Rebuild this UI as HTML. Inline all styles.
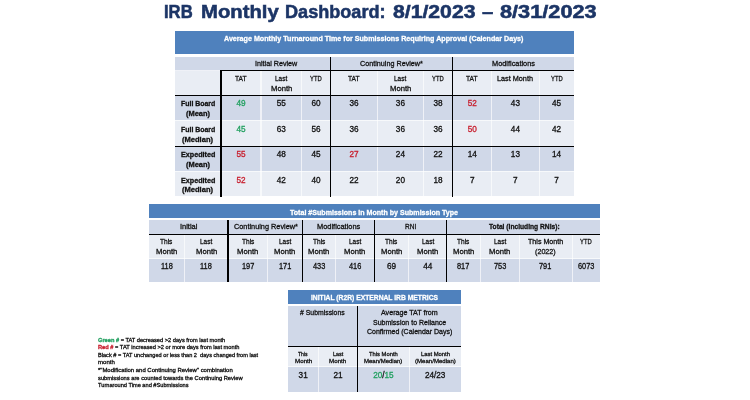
<!DOCTYPE html>
<html><head><meta charset="utf-8"><title>IRB Monthly Dashboard</title>
<style>
html,body{margin:0;padding:0;background:#fff;}
body{width:750px;height:400px;position:relative;overflow:hidden;font-family:"Liberation Sans",sans-serif;}
.r{position:absolute;}
.t{position:absolute;white-space:nowrap;-webkit-text-stroke:0.3px currentColor;}
#w{position:absolute;left:0;top:0;width:750px;height:400px;filter:blur(0.45px);}
</style></head><body><div id="w">
<div class="t" style="left:163.80px;top:1px;font-size:19px;line-height:21px;height:21px;color:#1C3566;transform:scaleX(0.8752);transform-origin:left top;font-weight:bold;-webkit-text-stroke:0.55px currentColor;">IRB</div>
<div class="t" style="left:200.50px;top:1px;font-size:19px;line-height:21px;height:21px;color:#1C3566;transform:scaleX(1.0677);transform-origin:left top;font-weight:bold;-webkit-text-stroke:0.55px currentColor;">Monthly</div>
<div class="t" style="left:285.40px;top:1px;font-size:19px;line-height:21px;height:21px;color:#1C3566;transform:scaleX(0.9522);transform-origin:left top;font-weight:bold;-webkit-text-stroke:0.55px currentColor;">Dashboard:</div>
<div class="t" style="left:392.90px;top:1px;font-size:19px;line-height:21px;height:21px;color:#1C3566;transform:scaleX(1.1148);transform-origin:left top;font-weight:bold;-webkit-text-stroke:0.55px currentColor;">8/1/2023</div>
<div class="t" style="left:482.40px;top:1px;font-size:19px;line-height:21px;height:21px;color:#1C3566;transform:scaleX(1.0716);transform-origin:left top;font-weight:bold;-webkit-text-stroke:0.55px currentColor;">–</div>
<div class="t" style="left:499.50px;top:1px;font-size:19px;line-height:21px;height:21px;color:#1C3566;transform:scaleX(1.1437);transform-origin:left top;font-weight:bold;-webkit-text-stroke:0.55px currentColor;">8/31/2023</div>
<div class="r" style="left:175.00px;top:30.90px;width:398.90px;height:24.60px;background:#4F81BD"></div>
<div class="r" style="left:175.00px;top:55.50px;width:398.90px;height:15.25px;background:#D0D8E8"></div>
<div class="r" style="left:175.00px;top:70.75px;width:398.90px;height:24.85px;background:#E9EDF4"></div>
<div class="r" style="left:175.00px;top:95.60px;width:398.90px;height:24.20px;background:#D0D8E8"></div>
<div class="r" style="left:175.00px;top:119.80px;width:398.90px;height:26.70px;background:#E9EDF4"></div>
<div class="r" style="left:175.00px;top:146.50px;width:398.90px;height:24.20px;background:#D0D8E8"></div>
<div class="r" style="left:175.00px;top:170.70px;width:398.90px;height:25.80px;background:#E9EDF4"></div>
<div class="r" style="left:220.35px;top:70.75px;width:1.1px;height:125.75px;background:rgba(255,255,255,0.65)"></div>
<div class="r" style="left:260.45px;top:70.75px;width:1.1px;height:125.75px;background:rgba(255,255,255,0.65)"></div>
<div class="r" style="left:300.85px;top:70.75px;width:1.1px;height:125.75px;background:rgba(255,255,255,0.65)"></div>
<div class="r" style="left:330.20px;top:70.75px;width:1.1px;height:125.75px;background:rgba(255,255,255,0.65)"></div>
<div class="r" style="left:376.85px;top:70.75px;width:1.1px;height:125.75px;background:rgba(255,255,255,0.65)"></div>
<div class="r" style="left:422.85px;top:70.75px;width:1.1px;height:125.75px;background:rgba(255,255,255,0.65)"></div>
<div class="r" style="left:452.15px;top:70.75px;width:1.1px;height:125.75px;background:rgba(255,255,255,0.65)"></div>
<div class="r" style="left:491.15px;top:70.75px;width:1.1px;height:125.75px;background:rgba(255,255,255,0.65)"></div>
<div class="r" style="left:538.55px;top:70.75px;width:1.1px;height:125.75px;background:rgba(255,255,255,0.65)"></div>
<div class="r" style="left:175.00px;top:54.40px;width:398.90px;height:2.2px;background:#fff"></div>
<div class="r" style="left:175.00px;top:120.05px;width:398.90px;height:1.1px;background:rgba(255,255,255,0.65)"></div>
<div class="r" style="left:175.00px;top:170.95px;width:398.90px;height:1.1px;background:rgba(255,255,255,0.65)"></div>
<div class="r" style="left:220.28px;top:70.75px;width:1.25px;height:125.75px;background:#000"></div>
<div class="r" style="left:330.12px;top:56.50px;width:1.25px;height:140.00px;background:#000"></div>
<div class="r" style="left:452.07px;top:56.50px;width:1.25px;height:140.00px;background:#000"></div>
<div class="r" style="left:175.00px;top:69.85px;width:45.90px;height:1.0px;background:rgba(255,255,255,0.65)"></div>
<div class="r" style="left:220.28px;top:70.12px;width:353.62px;height:1.25px;background:#000"></div>
<div class="r" style="left:175.00px;top:94.97px;width:398.90px;height:1.25px;background:#000"></div>
<div class="r" style="left:175.00px;top:145.88px;width:398.90px;height:1.25px;background:#000"></div>
<div class="t" style="left:224.40px;top:34px;font-size:7.2px;line-height:9px;height:9px;color:#fff;transform:scaleX(0.9932);transform-origin:left top;font-weight:bold;">Average Monthly Turnaround Time for Submissions Requiring Approval (Calendar Days)</div>
<div class="t" style="left:254.70px;top:59px;font-size:7.6px;line-height:9px;height:9px;color:#111;transform:scaleX(0.9442);transform-origin:left top;">Initial Review</div>
<div class="t" style="left:359.80px;top:59px;font-size:7.6px;line-height:9px;height:9px;color:#111;transform:scaleX(0.9486);transform-origin:left top;">Continuing Review*</div>
<div class="t" style="left:492.00px;top:59px;font-size:7.6px;line-height:9px;height:9px;color:#111;transform:scaleX(0.9696);transform-origin:left top;">Modifications</div>
<div class="t" style="left:235.15px;top:74px;font-size:7.6px;line-height:9px;height:9px;color:#111;transform:scaleX(0.8772);transform-origin:left top;">TAT</div>
<div class="t" style="left:275.10px;top:74px;font-size:7.6px;line-height:9px;height:9px;color:#111;transform:scaleX(0.8493);transform-origin:left top;">Last</div>
<div class="t" style="left:270.55px;top:84px;font-size:7.6px;line-height:9px;height:9px;color:#111;transform:scaleX(1.0081);transform-origin:left top;">Month</div>
<div class="t" style="left:310.22px;top:74px;font-size:7.6px;line-height:9px;height:9px;color:#111;transform:scaleX(0.7697);transform-origin:left top;">YTD</div>
<div class="t" style="left:348.27px;top:74px;font-size:7.6px;line-height:9px;height:9px;color:#111;transform:scaleX(0.8772);transform-origin:left top;">TAT</div>
<div class="t" style="left:394.30px;top:74px;font-size:7.6px;line-height:9px;height:9px;color:#111;transform:scaleX(0.8493);transform-origin:left top;">Last</div>
<div class="t" style="left:389.75px;top:84px;font-size:7.6px;line-height:9px;height:9px;color:#111;transform:scaleX(1.0081);transform-origin:left top;">Month</div>
<div class="t" style="left:432.20px;top:74px;font-size:7.6px;line-height:9px;height:9px;color:#111;transform:scaleX(0.7697);transform-origin:left top;">YTD</div>
<div class="t" style="left:466.40px;top:74px;font-size:7.6px;line-height:9px;height:9px;color:#111;transform:scaleX(0.8772);transform-origin:left top;">TAT</div>
<div class="t" style="left:497.40px;top:74px;font-size:7.6px;line-height:9px;height:9px;color:#111;transform:scaleX(0.9579);transform-origin:left top;">Last Month</div>
<div class="t" style="left:550.65px;top:74px;font-size:7.6px;line-height:9px;height:9px;color:#111;transform:scaleX(0.7697);transform-origin:left top;">YTD</div>
<div class="t" style="left:180.80px;top:99px;font-size:7.3px;line-height:9px;height:9px;color:#111;transform:scaleX(0.9502);transform-origin:left top;font-weight:bold;">Full Board</div>
<div class="t" style="left:185.95px;top:109px;font-size:7.3px;line-height:9px;height:9px;color:#111;transform:scaleX(1.0210);transform-origin:left top;font-weight:bold;">(Mean)</div>
<div class="t" style="left:236.40px;top:99px;font-size:8.2px;line-height:9px;height:9px;color:#22A060;transform:scaleX(1.0000);transform-origin:left top;">49</div>
<div class="t" style="left:276.65px;top:99px;font-size:8.2px;line-height:9px;height:9px;color:#111;transform:scaleX(1.0000);transform-origin:left top;">55</div>
<div class="t" style="left:311.52px;top:99px;font-size:8.2px;line-height:9px;height:9px;color:#111;transform:scaleX(1.0000);transform-origin:left top;">60</div>
<div class="t" style="left:349.52px;top:99px;font-size:8.2px;line-height:9px;height:9px;color:#111;transform:scaleX(1.0000);transform-origin:left top;">36</div>
<div class="t" style="left:395.85px;top:99px;font-size:8.2px;line-height:9px;height:9px;color:#111;transform:scaleX(1.0000);transform-origin:left top;">36</div>
<div class="t" style="left:433.50px;top:99px;font-size:8.2px;line-height:9px;height:9px;color:#111;transform:scaleX(1.0000);transform-origin:left top;">38</div>
<div class="t" style="left:467.65px;top:99px;font-size:8.2px;line-height:9px;height:9px;color:#C8202F;transform:scaleX(1.0000);transform-origin:left top;">52</div>
<div class="t" style="left:510.85px;top:99px;font-size:8.2px;line-height:9px;height:9px;color:#111;transform:scaleX(1.0000);transform-origin:left top;">43</div>
<div class="t" style="left:551.95px;top:99px;font-size:8.2px;line-height:9px;height:9px;color:#111;transform:scaleX(1.0000);transform-origin:left top;">45</div>
<div class="t" style="left:180.80px;top:125px;font-size:7.3px;line-height:9px;height:9px;color:#111;transform:scaleX(0.9502);transform-origin:left top;font-weight:bold;">Full Board</div>
<div class="t" style="left:182.45px;top:135px;font-size:7.3px;line-height:9px;height:9px;color:#111;transform:scaleX(1.0332);transform-origin:left top;font-weight:bold;">(Median)</div>
<div class="t" style="left:236.40px;top:125px;font-size:8.2px;line-height:9px;height:9px;color:#22A060;transform:scaleX(1.0000);transform-origin:left top;">45</div>
<div class="t" style="left:276.65px;top:125px;font-size:8.2px;line-height:9px;height:9px;color:#111;transform:scaleX(1.0000);transform-origin:left top;">63</div>
<div class="t" style="left:311.52px;top:125px;font-size:8.2px;line-height:9px;height:9px;color:#111;transform:scaleX(1.0000);transform-origin:left top;">56</div>
<div class="t" style="left:349.52px;top:125px;font-size:8.2px;line-height:9px;height:9px;color:#111;transform:scaleX(1.0000);transform-origin:left top;">36</div>
<div class="t" style="left:395.85px;top:125px;font-size:8.2px;line-height:9px;height:9px;color:#111;transform:scaleX(1.0000);transform-origin:left top;">36</div>
<div class="t" style="left:433.50px;top:125px;font-size:8.2px;line-height:9px;height:9px;color:#111;transform:scaleX(1.0000);transform-origin:left top;">36</div>
<div class="t" style="left:467.65px;top:125px;font-size:8.2px;line-height:9px;height:9px;color:#C8202F;transform:scaleX(1.0000);transform-origin:left top;">50</div>
<div class="t" style="left:510.85px;top:125px;font-size:8.2px;line-height:9px;height:9px;color:#111;transform:scaleX(1.0000);transform-origin:left top;">44</div>
<div class="t" style="left:551.95px;top:125px;font-size:8.2px;line-height:9px;height:9px;color:#111;transform:scaleX(1.0000);transform-origin:left top;">42</div>
<div class="t" style="left:180.80px;top:150px;font-size:7.3px;line-height:9px;height:9px;color:#111;transform:scaleX(0.9830);transform-origin:left top;font-weight:bold;">Expedited</div>
<div class="t" style="left:185.95px;top:160px;font-size:7.3px;line-height:9px;height:9px;color:#111;transform:scaleX(1.0210);transform-origin:left top;font-weight:bold;">(Mean)</div>
<div class="t" style="left:236.40px;top:150px;font-size:8.2px;line-height:9px;height:9px;color:#C8202F;transform:scaleX(1.0000);transform-origin:left top;">55</div>
<div class="t" style="left:276.65px;top:150px;font-size:8.2px;line-height:9px;height:9px;color:#111;transform:scaleX(1.0000);transform-origin:left top;">48</div>
<div class="t" style="left:311.52px;top:150px;font-size:8.2px;line-height:9px;height:9px;color:#111;transform:scaleX(1.0000);transform-origin:left top;">45</div>
<div class="t" style="left:349.52px;top:150px;font-size:8.2px;line-height:9px;height:9px;color:#C8202F;transform:scaleX(1.0000);transform-origin:left top;">27</div>
<div class="t" style="left:395.85px;top:150px;font-size:8.2px;line-height:9px;height:9px;color:#111;transform:scaleX(1.0000);transform-origin:left top;">24</div>
<div class="t" style="left:433.50px;top:150px;font-size:8.2px;line-height:9px;height:9px;color:#111;transform:scaleX(1.0000);transform-origin:left top;">22</div>
<div class="t" style="left:467.65px;top:150px;font-size:8.2px;line-height:9px;height:9px;color:#111;transform:scaleX(1.0000);transform-origin:left top;">14</div>
<div class="t" style="left:510.85px;top:150px;font-size:8.2px;line-height:9px;height:9px;color:#111;transform:scaleX(1.0000);transform-origin:left top;">13</div>
<div class="t" style="left:551.95px;top:150px;font-size:8.2px;line-height:9px;height:9px;color:#111;transform:scaleX(1.0000);transform-origin:left top;">14</div>
<div class="t" style="left:180.80px;top:176px;font-size:7.3px;line-height:9px;height:9px;color:#111;transform:scaleX(0.9830);transform-origin:left top;font-weight:bold;">Expedited</div>
<div class="t" style="left:182.45px;top:185px;font-size:7.3px;line-height:9px;height:9px;color:#111;transform:scaleX(1.0332);transform-origin:left top;font-weight:bold;">(Median)</div>
<div class="t" style="left:236.40px;top:176px;font-size:8.2px;line-height:9px;height:9px;color:#C8202F;transform:scaleX(1.0000);transform-origin:left top;">52</div>
<div class="t" style="left:276.65px;top:176px;font-size:8.2px;line-height:9px;height:9px;color:#111;transform:scaleX(1.0000);transform-origin:left top;">42</div>
<div class="t" style="left:311.52px;top:176px;font-size:8.2px;line-height:9px;height:9px;color:#111;transform:scaleX(1.0000);transform-origin:left top;">40</div>
<div class="t" style="left:349.52px;top:176px;font-size:8.2px;line-height:9px;height:9px;color:#111;transform:scaleX(1.0000);transform-origin:left top;">22</div>
<div class="t" style="left:395.85px;top:176px;font-size:8.2px;line-height:9px;height:9px;color:#111;transform:scaleX(1.0000);transform-origin:left top;">20</div>
<div class="t" style="left:433.50px;top:176px;font-size:8.2px;line-height:9px;height:9px;color:#111;transform:scaleX(1.0000);transform-origin:left top;">18</div>
<div class="t" style="left:469.92px;top:176px;font-size:8.2px;line-height:9px;height:9px;color:#111;transform:scaleX(1.0000);transform-origin:left top;">7</div>
<div class="t" style="left:513.12px;top:176px;font-size:8.2px;line-height:9px;height:9px;color:#111;transform:scaleX(1.0000);transform-origin:left top;">7</div>
<div class="t" style="left:554.22px;top:176px;font-size:8.2px;line-height:9px;height:9px;color:#111;transform:scaleX(1.0000);transform-origin:left top;">7</div>
<div class="r" style="left:148.60px;top:204.10px;width:451.30px;height:15.10px;background:#4F81BD"></div>
<div class="r" style="left:148.60px;top:219.20px;width:451.30px;height:15.05px;background:#D0D8E8"></div>
<div class="r" style="left:148.60px;top:234.25px;width:451.30px;height:24.65px;background:#E9EDF4"></div>
<div class="r" style="left:148.60px;top:258.90px;width:451.30px;height:23.50px;background:#D0D8E8"></div>
<div class="r" style="left:183.85px;top:234.25px;width:1.1px;height:48.15px;background:rgba(255,255,255,0.65)"></div>
<div class="r" style="left:227.45px;top:234.25px;width:1.1px;height:48.15px;background:rgba(255,255,255,0.65)"></div>
<div class="r" style="left:267.05px;top:234.25px;width:1.1px;height:48.15px;background:rgba(255,255,255,0.65)"></div>
<div class="r" style="left:301.75px;top:234.25px;width:1.1px;height:48.15px;background:rgba(255,255,255,0.65)"></div>
<div class="r" style="left:335.15px;top:234.25px;width:1.1px;height:48.15px;background:rgba(255,255,255,0.65)"></div>
<div class="r" style="left:373.90px;top:234.25px;width:1.1px;height:48.15px;background:rgba(255,255,255,0.65)"></div>
<div class="r" style="left:408.25px;top:234.25px;width:1.1px;height:48.15px;background:rgba(255,255,255,0.65)"></div>
<div class="r" style="left:446.15px;top:234.25px;width:1.1px;height:48.15px;background:rgba(255,255,255,0.65)"></div>
<div class="r" style="left:480.05px;top:234.25px;width:1.1px;height:48.15px;background:rgba(255,255,255,0.65)"></div>
<div class="r" style="left:518.55px;top:234.25px;width:1.1px;height:48.15px;background:rgba(255,255,255,0.65)"></div>
<div class="r" style="left:571.55px;top:234.25px;width:1.1px;height:48.15px;background:rgba(255,255,255,0.65)"></div>
<div class="r" style="left:148.60px;top:218.10px;width:451.30px;height:2.2px;background:#fff"></div>
<div class="r" style="left:148.60px;top:258.05px;width:451.30px;height:1.1px;background:rgba(255,255,255,0.65)"></div>
<div class="r" style="left:227.38px;top:220.20px;width:1.25px;height:62.20px;background:#000"></div>
<div class="r" style="left:301.68px;top:220.20px;width:1.25px;height:62.20px;background:#000"></div>
<div class="r" style="left:373.82px;top:220.20px;width:1.25px;height:62.20px;background:#000"></div>
<div class="r" style="left:446.07px;top:220.20px;width:1.25px;height:62.20px;background:#000"></div>
<div class="r" style="left:148.60px;top:233.62px;width:451.30px;height:1.25px;background:#000"></div>
<div class="t" style="left:290.40px;top:208px;font-size:7.2px;line-height:9px;height:9px;color:#fff;transform:scaleX(0.9847);transform-origin:left top;font-weight:bold;">Total #Submissions in Month by Submission Type</div>
<div class="t" style="left:179.60px;top:222px;font-size:7.6px;line-height:9px;height:9px;color:#111;transform:scaleX(0.9805);transform-origin:left top;">Initial</div>
<div class="t" style="left:233.60px;top:222px;font-size:7.6px;line-height:9px;height:9px;color:#111;transform:scaleX(0.9637);transform-origin:left top;">Continuing Review*</div>
<div class="t" style="left:316.70px;top:222px;font-size:7.6px;line-height:9px;height:9px;color:#111;transform:scaleX(0.9764);transform-origin:left top;">Modifications</div>
<div class="t" style="left:405.00px;top:222px;font-size:7.6px;line-height:9px;height:9px;color:#111;transform:scaleX(0.8606);transform-origin:left top;">RNI</div>
<div class="t" style="left:488.75px;top:222px;font-size:7.6px;line-height:9px;height:9px;color:#111;transform:scaleX(0.8791);transform-origin:left top;font-weight:bold;">Total (Including RNIs):</div>
<div class="t" style="left:160.30px;top:237px;font-size:7.6px;line-height:9px;height:9px;color:#111;transform:scaleX(0.8633);transform-origin:left top;">This</div>
<div class="t" style="left:155.85px;top:247px;font-size:7.6px;line-height:9px;height:9px;color:#111;transform:scaleX(1.0081);transform-origin:left top;">Month</div>
<div class="t" style="left:160.61px;top:262px;font-size:8.2px;line-height:9px;height:9px;color:#111;transform:scaleX(0.9000);transform-origin:left top;">118</div>
<div class="t" style="left:200.10px;top:237px;font-size:7.6px;line-height:9px;height:9px;color:#111;transform:scaleX(0.8493);transform-origin:left top;">Last</div>
<div class="t" style="left:195.55px;top:247px;font-size:7.6px;line-height:9px;height:9px;color:#111;transform:scaleX(1.0081);transform-origin:left top;">Month</div>
<div class="t" style="left:200.31px;top:262px;font-size:8.2px;line-height:9px;height:9px;color:#111;transform:scaleX(0.9000);transform-origin:left top;">118</div>
<div class="t" style="left:241.60px;top:237px;font-size:7.6px;line-height:9px;height:9px;color:#111;transform:scaleX(0.8633);transform-origin:left top;">This</div>
<div class="t" style="left:237.15px;top:247px;font-size:7.6px;line-height:9px;height:9px;color:#111;transform:scaleX(1.0081);transform-origin:left top;">Month</div>
<div class="t" style="left:241.64px;top:262px;font-size:8.2px;line-height:9px;height:9px;color:#111;transform:scaleX(0.9000);transform-origin:left top;">197</div>
<div class="t" style="left:278.85px;top:237px;font-size:7.6px;line-height:9px;height:9px;color:#111;transform:scaleX(0.8493);transform-origin:left top;">Last</div>
<div class="t" style="left:274.30px;top:247px;font-size:7.6px;line-height:9px;height:9px;color:#111;transform:scaleX(1.0081);transform-origin:left top;">Month</div>
<div class="t" style="left:278.79px;top:262px;font-size:8.2px;line-height:9px;height:9px;color:#111;transform:scaleX(0.9000);transform-origin:left top;">171</div>
<div class="t" style="left:312.80px;top:237px;font-size:7.6px;line-height:9px;height:9px;color:#111;transform:scaleX(0.8633);transform-origin:left top;">This</div>
<div class="t" style="left:308.35px;top:247px;font-size:7.6px;line-height:9px;height:9px;color:#111;transform:scaleX(1.0081);transform-origin:left top;">Month</div>
<div class="t" style="left:312.84px;top:262px;font-size:8.2px;line-height:9px;height:9px;color:#111;transform:scaleX(0.9000);transform-origin:left top;">433</div>
<div class="t" style="left:348.97px;top:237px;font-size:7.6px;line-height:9px;height:9px;color:#111;transform:scaleX(0.8493);transform-origin:left top;">Last</div>
<div class="t" style="left:344.43px;top:247px;font-size:7.6px;line-height:9px;height:9px;color:#111;transform:scaleX(1.0081);transform-origin:left top;">Month</div>
<div class="t" style="left:348.91px;top:262px;font-size:8.2px;line-height:9px;height:9px;color:#111;transform:scaleX(0.9000);transform-origin:left top;">416</div>
<div class="t" style="left:385.43px;top:237px;font-size:7.6px;line-height:9px;height:9px;color:#111;transform:scaleX(0.8633);transform-origin:left top;">This</div>
<div class="t" style="left:380.98px;top:247px;font-size:7.6px;line-height:9px;height:9px;color:#111;transform:scaleX(1.0081);transform-origin:left top;">Month</div>
<div class="t" style="left:387.07px;top:262px;font-size:8.2px;line-height:9px;height:9px;color:#111;transform:scaleX(1.0000);transform-origin:left top;">69</div>
<div class="t" style="left:421.65px;top:237px;font-size:7.6px;line-height:9px;height:9px;color:#111;transform:scaleX(0.8493);transform-origin:left top;">Last</div>
<div class="t" style="left:417.10px;top:247px;font-size:7.6px;line-height:9px;height:9px;color:#111;transform:scaleX(1.0081);transform-origin:left top;">Month</div>
<div class="t" style="left:423.20px;top:262px;font-size:8.2px;line-height:9px;height:9px;color:#111;transform:scaleX(1.0000);transform-origin:left top;">44</div>
<div class="t" style="left:457.45px;top:237px;font-size:7.6px;line-height:9px;height:9px;color:#111;transform:scaleX(0.8633);transform-origin:left top;">This</div>
<div class="t" style="left:453.00px;top:247px;font-size:7.6px;line-height:9px;height:9px;color:#111;transform:scaleX(1.0081);transform-origin:left top;">Month</div>
<div class="t" style="left:457.49px;top:262px;font-size:8.2px;line-height:9px;height:9px;color:#111;transform:scaleX(0.9000);transform-origin:left top;">817</div>
<div class="t" style="left:493.75px;top:237px;font-size:7.6px;line-height:9px;height:9px;color:#111;transform:scaleX(0.8493);transform-origin:left top;">Last</div>
<div class="t" style="left:489.20px;top:247px;font-size:7.6px;line-height:9px;height:9px;color:#111;transform:scaleX(1.0081);transform-origin:left top;">Month</div>
<div class="t" style="left:493.69px;top:262px;font-size:8.2px;line-height:9px;height:9px;color:#111;transform:scaleX(0.9000);transform-origin:left top;">753</div>
<div class="t" style="left:527.98px;top:237px;font-size:7.6px;line-height:9px;height:9px;color:#111;transform:scaleX(0.9379);transform-origin:left top;">This Month</div>
<div class="t" style="left:535.23px;top:247px;font-size:7.6px;line-height:9px;height:9px;color:#111;transform:scaleX(0.9447);transform-origin:left top;">(2022)</div>
<div class="t" style="left:539.44px;top:262px;font-size:8.2px;line-height:9px;height:9px;color:#111;transform:scaleX(0.9000);transform-origin:left top;">791</div>
<div class="t" style="left:580.15px;top:237px;font-size:7.6px;line-height:9px;height:9px;color:#111;transform:scaleX(0.7697);transform-origin:left top;">YTD</div>
<div class="t" style="left:577.79px;top:262px;font-size:8.2px;line-height:9px;height:9px;color:#111;transform:scaleX(0.9000);transform-origin:left top;">6073</div>
<div class="r" style="left:287.70px;top:290.20px;width:173.20px;height:14.65px;background:#4F81BD"></div>
<div class="r" style="left:287.70px;top:304.85px;width:173.20px;height:41.55px;background:#D0D8E8"></div>
<div class="r" style="left:287.70px;top:346.40px;width:173.20px;height:20.90px;background:#E9EDF4"></div>
<div class="r" style="left:287.70px;top:367.30px;width:173.20px;height:24.45px;background:#D0D8E8"></div>
<div class="r" style="left:318.05px;top:346.40px;width:1.1px;height:45.35px;background:rgba(255,255,255,0.65)"></div>
<div class="r" style="left:356.85px;top:346.40px;width:1.1px;height:45.35px;background:rgba(255,255,255,0.65)"></div>
<div class="r" style="left:408.95px;top:346.40px;width:1.1px;height:45.35px;background:rgba(255,255,255,0.65)"></div>
<div class="r" style="left:287.70px;top:303.75px;width:173.20px;height:2.2px;background:#fff"></div>
<div class="r" style="left:287.70px;top:366.25px;width:173.20px;height:1.1px;background:rgba(255,255,255,0.65)"></div>
<div class="r" style="left:356.77px;top:305.85px;width:1.25px;height:85.90px;background:#000"></div>
<div class="r" style="left:287.70px;top:345.77px;width:173.20px;height:1.25px;background:#000"></div>
<div class="t" style="left:310.80px;top:293px;font-size:7.9px;line-height:9px;height:9px;color:#fff;transform:scaleX(0.8540);transform-origin:left top;font-weight:bold;">INITIAL (R2R) EXTERNAL IRB METRICS</div>
<div class="t" style="left:300.00px;top:308px;font-size:7.5px;line-height:9px;height:9px;color:#111;transform:scaleX(0.9162);transform-origin:left top;"># Submissions</div>
<div class="t" style="left:381.25px;top:308px;font-size:7.5px;line-height:9px;height:9px;color:#111;transform:scaleX(0.9500);transform-origin:left top;">Average TAT from</div>
<div class="t" style="left:372.50px;top:318px;font-size:7.5px;line-height:9px;height:9px;color:#111;transform:scaleX(0.9346);transform-origin:left top;">Submission to Reliance</div>
<div class="t" style="left:366.70px;top:327px;font-size:7.5px;line-height:9px;height:9px;color:#111;transform:scaleX(0.9345);transform-origin:left top;">Confirmed (Calendar Days)</div>
<div class="t" style="left:298.35px;top:350px;font-size:6.2px;line-height:7px;height:7px;color:#111;transform:scaleX(0.8193);transform-origin:left top;">This</div>
<div class="t" style="left:294.50px;top:357px;font-size:6.2px;line-height:7px;height:7px;color:#111;transform:scaleX(1.0037);transform-origin:left top;">Month</div>
<div class="t" style="left:332.85px;top:350px;font-size:6.2px;line-height:7px;height:7px;color:#111;transform:scaleX(0.8790);transform-origin:left top;">Last</div>
<div class="t" style="left:329.35px;top:357px;font-size:6.2px;line-height:7px;height:7px;color:#111;transform:scaleX(1.0037);transform-origin:left top;">Month</div>
<div class="t" style="left:369.05px;top:350px;font-size:6.2px;line-height:7px;height:7px;color:#111;transform:scaleX(0.9394);transform-origin:left top;">This Month</div>
<div class="t" style="left:364.25px;top:357px;font-size:6.2px;line-height:7px;height:7px;color:#111;transform:scaleX(0.9693);transform-origin:left top;">Mean/Median)</div>
<div class="t" style="left:420.70px;top:350px;font-size:6.2px;line-height:7px;height:7px;color:#111;transform:scaleX(0.9459);transform-origin:left top;">Last Month</div>
<div class="t" style="left:414.75px;top:357px;font-size:6.2px;line-height:7px;height:7px;color:#111;transform:scaleX(0.9809);transform-origin:left top;">(Mean/Median)</div>
<div class="t" style="left:298.60px;top:371px;font-size:8.2px;line-height:9px;height:9px;color:#111;transform:scaleX(1.0000);transform-origin:left top;">31</div>
<div class="t" style="left:333.45px;top:371px;font-size:8.2px;line-height:9px;height:9px;color:#111;transform:scaleX(1.0000);transform-origin:left top;">21</div>
<div class="t" style="left:373.18px;top:371px;font-size:8.2px;line-height:9px;height:9px;color:#111;transform:scaleX(1.0000);transform-origin:left top;"><span style="color:#22A060">20</span>/<span style="color:#22A060">15</span></div>
<div class="t" style="left:424.93px;top:371px;font-size:8.2px;line-height:9px;height:9px;color:#111;transform:scaleX(1.0000);transform-origin:left top;">24/23</div>
<div class="t" style="left:97.80px;top:337px;font-size:5.7px;line-height:6px;height:6px;color:#111;transform:scaleX(0.9948);transform-origin:left top;"><b style="color:#22A060">Green #</b> = TAT decreased &gt;2 days from last month</div>
<div class="t" style="left:97.80px;top:344px;font-size:5.7px;line-height:6px;height:6px;color:#111;transform:scaleX(0.9993);transform-origin:left top;"><b style="color:#C8202F">Red #</b> = TAT increased &gt;2 or more days from last month</div>
<div class="t" style="left:97.80px;top:352px;font-size:5.7px;line-height:6px;height:6px;color:#111;transform:scaleX(0.9871);transform-origin:left top;">Black # = TAT unchanged or less than 2&nbsp; days changed from last</div>
<div class="t" style="left:97.80px;top:359px;font-size:5.7px;line-height:6px;height:6px;color:#111;transform:scaleX(1.0665);transform-origin:left top;">month</div>
<div class="t" style="left:97.80px;top:367px;font-size:5.7px;line-height:6px;height:6px;color:#111;transform:scaleX(1.0447);transform-origin:left top;">*"Modification and Continuing Review" combination</div>
<div class="t" style="left:97.80px;top:375px;font-size:5.7px;line-height:6px;height:6px;color:#111;transform:scaleX(1.0116);transform-origin:left top;">submissions are counted towards the Continuing Review</div>
<div class="t" style="left:97.80px;top:382px;font-size:5.7px;line-height:6px;height:6px;color:#111;transform:scaleX(0.9930);transform-origin:left top;">Turnaround Time and #Submissions</div>
</div></body></html>
